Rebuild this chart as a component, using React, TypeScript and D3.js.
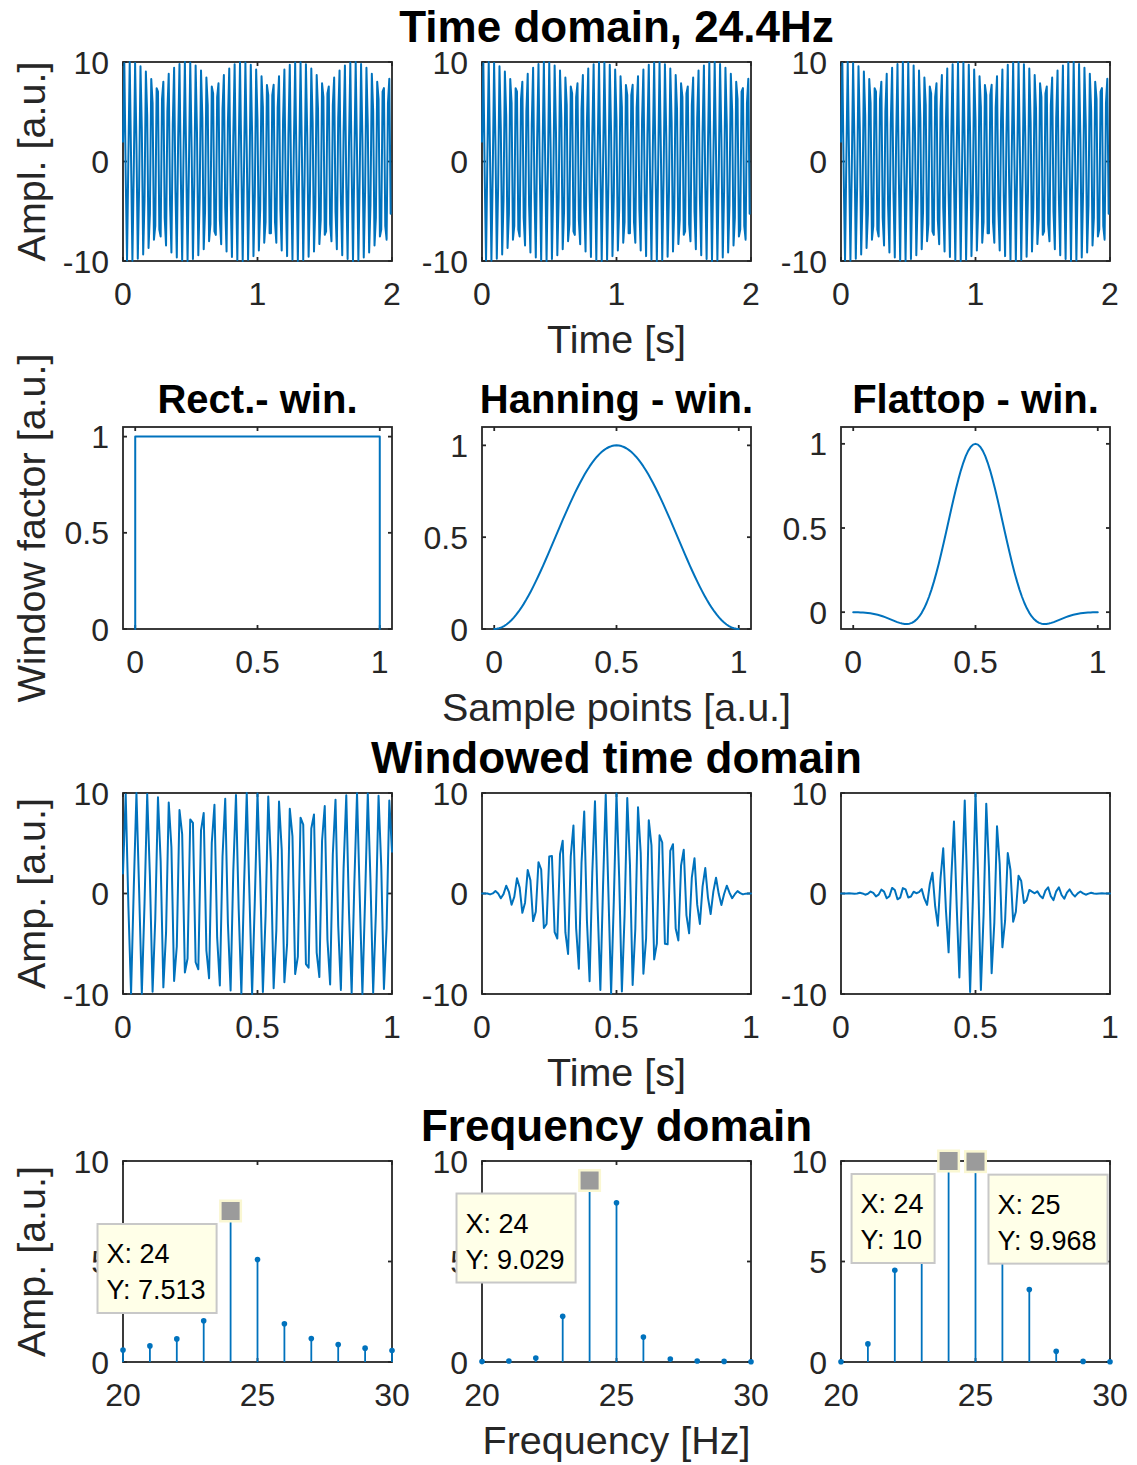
import React from 'react';
import * as d3 from 'd3';

// Sampled test signal: 24.4 Hz tone, 100 Hz sampling, t = 0 … 1.99 s
const FS = 100;
const SIGNAL = [
  1.99, 9.87, -1.25, -9.96, 0.5, 10.0, 0.25, -9.98, -1.01, 9.9,
  1.75, -9.77, -2.49, 9.58, 3.21, -9.34, -3.92, 9.05, 4.6, -8.7,
  -5.25, 8.3, 5.88, -7.86, -6.47, 7.37, 7.03, -6.84, -7.54, 6.27,
  8.02, -5.67, -8.44, 5.03, 8.82, -4.37, -9.15, 3.68, 9.43, -2.97,
  -9.65, 2.24, 9.79, -1.5, -9.94, 0.75, 9.99, 0.0, -9.99, -0.76,
  9.94, 1.51, -9.79, -2.25, 9.65, 2.97, -9.43, -3.68, 9.15, 4.37,
  -8.82, -5.04, 8.44, 5.68, -8.01, -6.28, 7.54, 6.85, -7.02, -7.38,
  6.47, 7.86, -5.88, -8.31, 5.25, 8.7, -4.59, -9.05, 3.91, 9.34,
  -3.21, -9.59, 2.48, 9.77, -1.75, -9.9, 1.0, 9.98, -0.25, -10.0,
  -0.51, 9.96, 1.26, -9.87, -2.0, 9.72, 2.73, -9.51, -3.45, 9.25,
  4.15, -8.94, -4.82, 8.57, 5.47, -8.16, -6.08, 7.7, 6.66, -7.2,
  -7.21, 6.66, 7.71, -6.08, -8.17, 5.46, 8.58, -4.81, -8.94, 4.14,
  9.25, -3.44, -9.51, 2.73, 9.72, -1.99, -9.87, 1.25, 9.96, -0.5,
  -10.0, -0.25, 9.98, 1.01, -9.9, -1.75, 9.77, 2.49, -9.58, -3.21,
  9.34, 3.92, -9.05, -4.6, 8.7, 5.25, -8.3, -5.88, 7.86, 6.47,
  -7.37, -7.03, 6.84, 7.54, -6.27, -8.02, 5.67, 8.44, -5.03, -8.82,
  4.37, 9.15, -3.68, -9.43, 2.97, 9.65, -2.24, -9.79, 1.5, 9.94,
  -0.75, -9.99, 0.0, 9.99, 0.76, -9.94, -1.51, 9.79, 2.25, -9.65,
  -2.97, 9.43, 3.68, -9.15, -4.37, 8.82, 5.04, -8.44, -5.68, 8.01,
  6.28, -7.54, -6.85, 7.02, 7.38, -6.47, -7.86, 5.88, 8.31, -5.25,
];

// Window length: 101 samples (t = 0 … 1 s)
const WIN_LEN = 101;

// Rectangular window outline (zero-padded at both ends)
const RECT_X = [0, 0, 1, 1];
const RECT_Y = [0, 1, 1, 0];

// Hanning window, 101 points
const HANN_WIN = [
  0, 0.001, 0.0039, 0.0089, 0.0157, 0.0245, 0.0351, 0.0476, 0.0618, 0.0778,
  0.0955, 0.1147, 0.1355, 0.1577, 0.1813, 0.2061, 0.2321, 0.2591, 0.2871, 0.3159,
  0.3455, 0.3757, 0.4063, 0.4373, 0.4686, 0.5, 0.5314, 0.5627, 0.5937, 0.6243,
  0.6545, 0.6841, 0.7129, 0.7409, 0.7679, 0.7939, 0.8187, 0.8423, 0.8645, 0.8853,
  0.9045, 0.9222, 0.9382, 0.9524, 0.9649, 0.9755, 0.9843, 0.9911, 0.9961, 0.999,
  1.0,
  0.999, 0.9961, 0.9911, 0.9843, 0.9755, 0.9649, 0.9524, 0.9382, 0.9222, 0.9045,
  0.8853, 0.8645, 0.8423, 0.8187, 0.7939, 0.7679, 0.7409, 0.7129, 0.6841, 0.6545,
  0.6243, 0.5937, 0.5627, 0.5314, 0.5, 0.4686, 0.4373, 0.4063, 0.3757, 0.3455,
  0.3159, 0.2871, 0.2591, 0.2321, 0.2061, 0.1813, 0.1577, 0.1355, 0.1147, 0.0955,
  0.0778, 0.0618, 0.0476, 0.0351, 0.0245, 0.0157, 0.0089, 0.0039, 0.001, 0,
];

// Flat-top window, 101 points
const FLATTOP_WIN = [
  -0.0004, -0.0005, -0.0008, -0.0014, -0.0022, -0.0033, -0.0048, -0.0068, -0.0092, -0.0121,
  -0.0156, -0.0197, -0.0243, -0.0295, -0.0352, -0.0411, -0.0472, -0.0532, -0.0589, -0.0638,
  -0.0677, -0.0701, -0.0704, -0.0683, -0.0633, -0.0547, -0.0423, -0.0254, -0.0039, 0.0227,
  0.0545, 0.0916, 0.134, 0.1814, 0.2334, 0.2897, 0.3495, 0.4121, 0.4765, 0.5418,
  0.6069, 0.6705, 0.7315, 0.7888, 0.8411, 0.8874, 0.9267, 0.9583, 0.9813, 0.9953,
  1.0,
  0.9953, 0.9813, 0.9583, 0.9267, 0.8874, 0.8411, 0.7888, 0.7315, 0.6705, 0.6069,
  0.5418, 0.4765, 0.4121, 0.3495, 0.2897, 0.2334, 0.1814, 0.134, 0.0916, 0.0545,
  0.0227, -0.0039, -0.0254, -0.0423, -0.0547, -0.0633, -0.0683, -0.0704, -0.0701, -0.0677,
  -0.0638, -0.0589, -0.0532, -0.0472, -0.0411, -0.0352, -0.0295, -0.0243, -0.0197, -0.0156,
  -0.0121, -0.0092, -0.0068, -0.0048, -0.0033, -0.0022, -0.0014, -0.0008, -0.0005, -0.0004,
];

// Amplitude spectra, 20 … 30 Hz
const FREQS = [20, 21, 22, 23, 24, 25, 26, 27, 28, 29, 30];
const RECT_AMP = [0.6, 0.8, 1.15, 2.05, 7.513, 5.1, 1.9, 1.17, 0.87, 0.69, 0.57];
const HANN_AMP = [0.02, 0.05, 0.2, 2.27, 9.029, 7.92, 1.24, 0.15, 0.05, 0.03, 0.01];
const FLAT_AMP = [0.01, 0.9, 4.56, 8.82, 10.0, 9.968, 8.16, 3.61, 0.53, 0.03, 0.01];

// Tick values
const TIME2_TICKS = [0, 1, 2];
const UNIT_TICKS = [0, 0.5, 1];
const AMP_TICKS = [-10, 0, 10];
const FREQ_TICKS = [20, 25, 30];
const SPEC_TICKS = [0, 5, 10];

// Text
const WIN_TITLES = ['Rect.- win.', 'Hanning - win.', 'Flattop - win.'];
const ROW_TITLES = ['Time domain, 24.4Hz', 'Windowed time domain', 'Frequency domain'];
const X_LABELS = ['Time [s]', 'Sample points [a.u.]', 'Time [s]', 'Frequency [Hz]'];
const Y_LABELS = ['Ampl. [a.u.]', 'Window factor [a.u.]', 'Amp. [a.u.]', 'Amp. [a.u.]'];

// Layout / style
const W = 1137;
const H = 1465;
const BLUE = '#0072BD';
const AXIS = '#262626';
const FONT = '"Liberation Sans", Arial, Helvetica, sans-serif';
const COL_X = [123, 482, 841];
const COL_W = 269;
const ROWS = [
  { top: 62, bottom: 261 },
  { top: 427, bottom: 629 },
  { top: 793, bottom: 994 },
  { top: 1161, bottom: 1362 },
];
const TICK_FS = 32;
const LABEL_FS = 39.5;
const TITLE_FS = 40;
const MAIN_FS = 44;
const TIP_FS = 27;
const TICK_LEN = 4;

let measureCtx: CanvasRenderingContext2D | null = null;
function textWidth(s: string, size: number) {
  if (!measureCtx && typeof document !== 'undefined') {
    measureCtx = document.createElement('canvas').getContext('2d');
  }
  if (!measureCtx) return s.length * size * 0.55;
  measureCtx.font = `${size}px "Liberation Sans", Arial, sans-serif`;
  return measureCtx.measureText(s).width;
}

function scales(col: number, row: number, xd: number[], yd: number[]) {
  const x = d3.scaleLinear().domain(xd).range([COL_X[col], COL_X[col] + COL_W]);
  const y = d3.scaleLinear().domain(yd).range([ROWS[row].bottom, ROWS[row].top]);
  return { x, y };
}

type Sc = { x: d3.ScaleLinear<number, number>; y: d3.ScaleLinear<number, number> };

function Frame({ sc, xTicks, yTicks, children }: { sc: Sc; xTicks: number[]; yTicks: number[]; children?: React.ReactNode }) {
  const [x0, x1] = sc.x.range();
  const [y1, y0] = sc.y.range();
  return (
    <g>
      <rect x={x0} y={y0} width={x1 - x0} height={y1 - y0} fill="white" stroke="none" />
      {xTicks.map((v) => (
        <g key={'xt' + v}>
          <line x1={sc.x(v)} x2={sc.x(v)} y1={y1} y2={y1 - TICK_LEN} stroke={AXIS} strokeWidth={1.8} />
          <line x1={sc.x(v)} x2={sc.x(v)} y1={y0} y2={y0 + TICK_LEN} stroke={AXIS} strokeWidth={1.8} />
          <text x={sc.x(v)} y={y1 + 44} textAnchor="middle" fontSize={TICK_FS} fill={AXIS}>
            {String(v)}
          </text>
        </g>
      ))}
      {yTicks.map((v) => (
        <g key={'yt' + v}>
          <line x1={x0} x2={x0 + TICK_LEN} y1={sc.y(v)} y2={sc.y(v)} stroke={AXIS} strokeWidth={1.8} />
          <line x1={x1} x2={x1 - TICK_LEN} y1={sc.y(v)} y2={sc.y(v)} stroke={AXIS} strokeWidth={1.8} />
          <text x={x0 - 14} y={sc.y(v)} dy="0.36em" textAnchor="end" fontSize={TICK_FS} fill={AXIS}>
            {String(v)}
          </text>
        </g>
      ))}
      <rect x={x0} y={y0} width={x1 - x0} height={y1 - y0} fill="none" stroke={AXIS} strokeWidth={1.8} />
      {children}
    </g>
  );
}

function Trace({ sc, xs, ys, width = 2 }: { sc: Sc; xs: number[]; ys: number[]; width?: number }) {
  const pts = xs.map((xv, i) => [xv, ys[i]] as [number, number]);
  const path = d3
    .line<[number, number]>()
    .x((d) => sc.x(d[0]))
    .y((d) => sc.y(d[1]))(pts);
  return <path d={path || ''} fill="none" stroke={BLUE} strokeWidth={width} strokeLinejoin="round" strokeLinecap="round" />;
}

function Stems({ sc, xs, ys }: { sc: Sc; xs: number[]; ys: number[] }) {
  return (
    <g>
      {xs.map((f, i) => (
        <g key={f}>
          <line x1={sc.x(f)} x2={sc.x(f)} y1={sc.y(0)} y2={sc.y(ys[i])} stroke={BLUE} strokeWidth={1.8} />
          <circle cx={sc.x(f)} cy={sc.y(ys[i])} r={2.8} fill={BLUE} />
        </g>
      ))}
    </g>
  );
}

function DataTip({ sc, xv, yv, side }: { sc: Sc; xv: number; yv: number; side: 'left' | 'right' }) {
  const px = sc.x(xv);
  const py = sc.y(yv);
  const fmt = d3.format('.4~g');
  const l1 = `X: ${fmt(xv)}`;
  const l2 = `Y: ${fmt(yv)}`;
  const tw = Math.max(textWidth(l1, TIP_FS), textWidth(l2, TIP_FS));
  const bw = tw + 20;
  const bh = 89;
  const bx = side === 'left' ? px - 14 - bw : px + 13;
  const by = py + 13;
  return (
    <g>
      <rect x={bx} y={by} width={bw} height={bh} fill="#FFFFE8" stroke="#C8C8C8" strokeWidth={2} />
      <text x={bx + 9} y={by + 39} fontSize={TIP_FS} fill="#000">{l1}</text>
      <text x={bx + 9} y={by + 75} fontSize={TIP_FS} fill="#000">{l2}</text>
      <rect x={px - 11.5} y={py - 11.5} width={23} height={23} fill="#FAF7D2" />
      <rect x={px - 9} y={py - 9} width={18} height={18} fill="#9B9B9B" />
    </g>
  );
}

export default function App() {
  const tSig = SIGNAL.map((_, i) => i / FS);
  const tWin = d3.range(WIN_LEN).map((i) => i / FS);
  const sampleAxis = d3.range(WIN_LEN).map((i) => i / (WIN_LEN - 1));
  const segment = SIGNAL.slice(0, WIN_LEN);
  const windowed = [
    segment,
    segment.map((v, i) => v * HANN_WIN[i]),
    segment.map((v, i) => v * FLATTOP_WIN[i]),
  ];
  const winY = [
    [0, 1.05],
    [0, 1.1],
    [-0.1, 1.1],
  ];
  const spectra = [RECT_AMP, HANN_AMP, FLAT_AMP];
  const midX = COL_X[1] + COL_W / 2;

  const specScales = [0, 1, 2].map((c) => scales(c, 3, [20, 30], [0, 10]));

  return (
    <svg
      width={W}
      height={H}
      viewBox={`0 0 ${W} ${H}`}
      style={{ position: 'absolute', left: 0, top: 0, background: 'white', fontFamily: FONT }}
    >
      <rect x={0} y={0} width={W} height={H} fill="white" />

      {/* Row 1: raw signal */}
      {[0, 1, 2].map((c) => {
        const sc = scales(c, 0, [0, 2], [-10, 10]);
        return (
          <Frame key={'r1' + c} sc={sc} xTicks={TIME2_TICKS} yTicks={AMP_TICKS}>
            <Trace sc={sc} xs={tSig} ys={SIGNAL} />
          </Frame>
        );
      })}

      {/* Row 2: window functions */}
      {[0, 1, 2].map((c) => {
        const sc = scales(c, 1, [-0.05, 1.05], winY[c]);
        return (
          <Frame key={'r2' + c} sc={sc} xTicks={UNIT_TICKS} yTicks={UNIT_TICKS}>
            {c === 0 && <Trace sc={sc} xs={RECT_X} ys={RECT_Y} />}
            {c === 1 && <Trace sc={sc} xs={sampleAxis} ys={HANN_WIN} />}
            {c === 2 && <Trace sc={sc} xs={sampleAxis} ys={FLATTOP_WIN} />}
          </Frame>
        );
      })}

      {/* Row 3: windowed signal */}
      {[0, 1, 2].map((c) => {
        const sc = scales(c, 2, [0, 1], [-10, 10]);
        return (
          <Frame key={'r3' + c} sc={sc} xTicks={UNIT_TICKS} yTicks={AMP_TICKS}>
            <Trace sc={sc} xs={tWin} ys={windowed[c]} />
          </Frame>
        );
      })}

      {/* Row 4: amplitude spectra */}
      {[0, 1, 2].map((c) => (
        <Frame key={'r4' + c} sc={specScales[c]} xTicks={FREQ_TICKS} yTicks={SPEC_TICKS}>
          <Stems sc={specScales[c]} xs={FREQS} ys={spectra[c]} />
        </Frame>
      ))}

      {/* Data tips */}
      <DataTip sc={specScales[0]} xv={FREQS[4]} yv={RECT_AMP[4]} side="left" />
      <DataTip sc={specScales[1]} xv={FREQS[4]} yv={HANN_AMP[4]} side="left" />
      <DataTip sc={specScales[2]} xv={FREQS[4]} yv={FLAT_AMP[4]} side="left" />
      <DataTip sc={specScales[2]} xv={FREQS[5]} yv={FLAT_AMP[5]} side="right" />

      {/* Titles */}
      <text x={midX} y={ROWS[0].top - 20} textAnchor="middle" fontSize={MAIN_FS} fontWeight="bold" fill="#000">
        {ROW_TITLES[0]}
      </text>
      {WIN_TITLES.map((t, c) => (
        <text key={t} x={COL_X[c] + COL_W / 2} y={ROWS[1].top - 14} textAnchor="middle" fontSize={TITLE_FS} fontWeight="bold" fill="#000">
          {t}
        </text>
      ))}
      <text x={midX} y={ROWS[2].top - 20} textAnchor="middle" fontSize={MAIN_FS} fontWeight="bold" fill="#000">
        {ROW_TITLES[1]}
      </text>
      <text x={midX} y={ROWS[3].top - 20} textAnchor="middle" fontSize={MAIN_FS} fontWeight="bold" fill="#000">
        {ROW_TITLES[2]}
      </text>

      {/* Axis labels */}
      {X_LABELS.map((t, r) => (
        <text key={'xl' + r} x={midX} y={ROWS[r].bottom + 92} textAnchor="middle" fontSize={LABEL_FS} fill={AXIS}>
          {t}
        </text>
      ))}
      {Y_LABELS.map((t, r) => {
        const cy = (ROWS[r].top + ROWS[r].bottom) / 2;
        return (
          <text
            key={'yl' + r}
            transform={`translate(45,${cy}) rotate(-90)`}
            textAnchor="middle"
            fontSize={LABEL_FS}
            fill={AXIS}
          >
            {t}
          </text>
        );
      })}
    </svg>
  );
}
